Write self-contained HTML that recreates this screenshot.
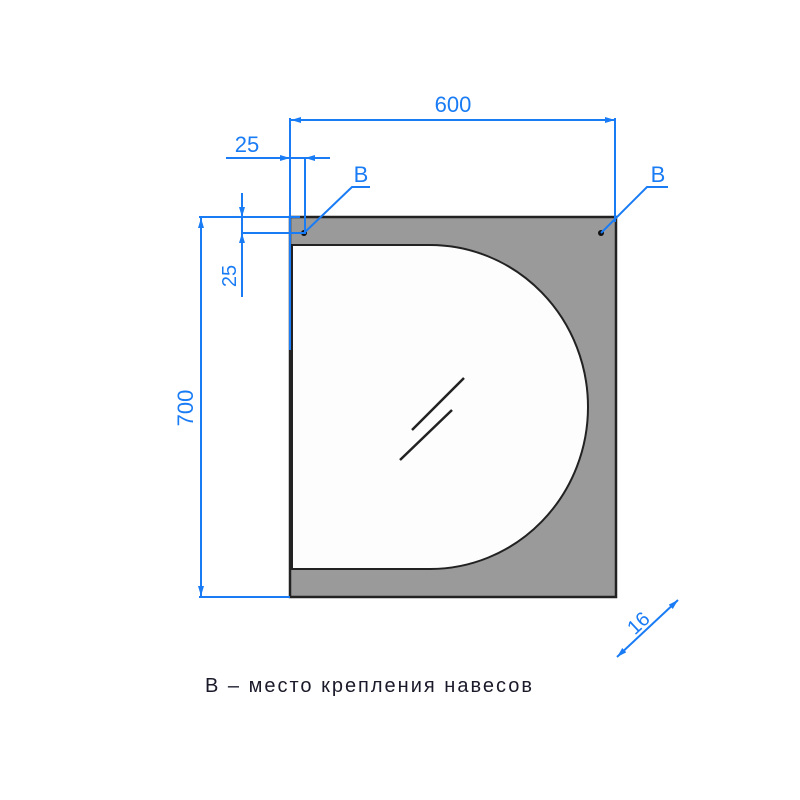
<!DOCTYPE html>
<html><head><meta charset="utf-8"><style>html,body{margin:0;padding:0;background:#fff}svg{display:block}</style></head>
<body>
<svg width="800" height="800" viewBox="0 0 800 800" xmlns="http://www.w3.org/2000/svg">
<defs>
<marker id="a" viewBox="0 0 10 6" refX="10" refY="3" markerWidth="10" markerHeight="6" orient="auto-start-reverse" markerUnits="userSpaceOnUse"><path d="M0,0 L10,3 L0,6 z" fill="#1a7cf5"/></marker>
</defs>
<rect x="290" y="217" width="326" height="380" fill="#9a9a9a" stroke="#222" stroke-width="2.5"/>
<path d="M292,245 L430,245 A158,162 0 0 1 430,569 L292,569 Z" fill="#fdfdfd" stroke="#222" stroke-width="2"/>
<line x1="412" y1="430" x2="464" y2="378" stroke="#222" stroke-width="2.5"/>
<line x1="400" y1="460" x2="452" y2="410" stroke="#222" stroke-width="2.5"/>
<circle cx="304" cy="233" r="3" fill="#111"/>
<circle cx="601" cy="233" r="3" fill="#111"/>
<g stroke="#1a7cf5" stroke-width="2" fill="none">
<line x1="291" y1="120" x2="615" y2="120" marker-start="url(#a)" marker-end="url(#a)"/>
<line x1="290" y1="118" x2="290" y2="350"/>
<line x1="615" y1="118" x2="615" y2="222"/>
<line x1="226" y1="158" x2="330" y2="158"/>
<line x1="278" y1="158" x2="290" y2="158" marker-end="url(#a)"/>
<line x1="318" y1="158" x2="305" y2="158" marker-end="url(#a)"/>
<line x1="305" y1="158" x2="305" y2="234"/>
<line x1="201" y1="218" x2="201" y2="596" marker-start="url(#a)" marker-end="url(#a)"/>
<line x1="199" y1="217" x2="300" y2="217"/>
<line x1="199" y1="597" x2="290" y2="597"/>
<line x1="242" y1="193" x2="242" y2="297"/>
<line x1="242" y1="205" x2="242" y2="217" marker-end="url(#a)"/>
<line x1="242" y1="245" x2="242" y2="233" marker-end="url(#a)"/>
<line x1="242" y1="233" x2="305" y2="233"/>
<polyline points="304,233 352,187 370,187"/>
<polyline points="601,233 647,187 668,187"/>
<line x1="617" y1="657" x2="678" y2="600" marker-start="url(#a)" marker-end="url(#a)"/>
</g>
<g fill="#1a7cf5" font-family="Liberation Sans, sans-serif" font-size="22">
<text x="453" y="112" text-anchor="middle">600</text>
<text x="247" y="152" text-anchor="middle">25</text>
<text x="361" y="182" text-anchor="middle">B</text>
<text x="658" y="182" text-anchor="middle">B</text>
<text transform="translate(193,408) rotate(-90)" text-anchor="middle">700</text>
<text transform="translate(236,276) rotate(-90)" text-anchor="middle" font-size="20">25</text>
<text transform="translate(643,628) rotate(-43)" text-anchor="middle" font-size="20">16</text>
</g>
<text x="205" y="692" font-family="Liberation Sans, sans-serif" font-size="20" letter-spacing="2" fill="#1a1a2a">В – место крепления навесов</text>
</svg>
</body></html>
